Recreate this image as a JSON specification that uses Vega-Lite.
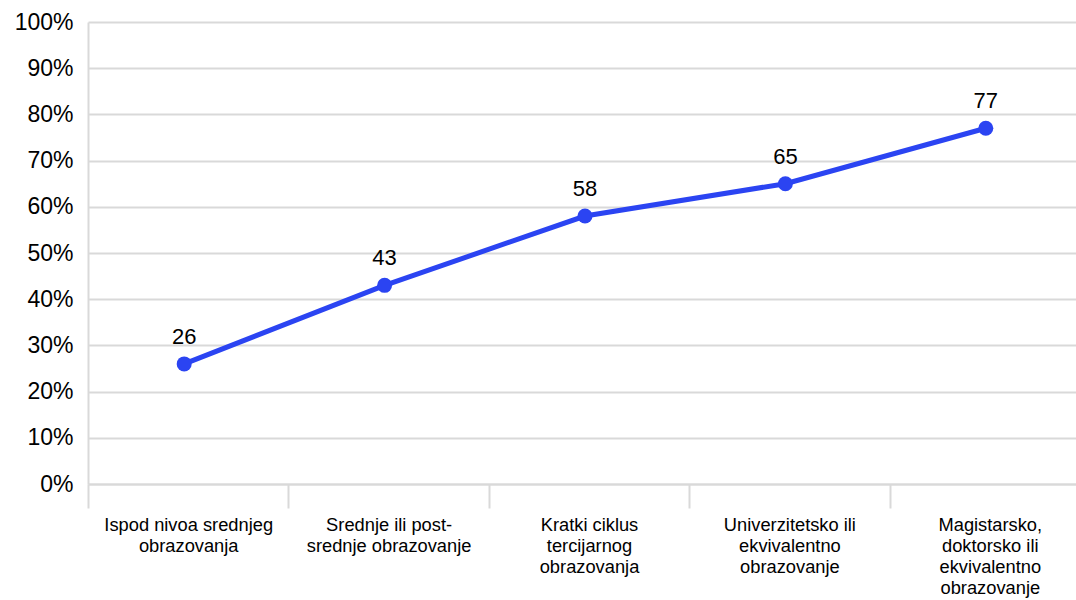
{
  "$schema": "https://vega.github.io/schema/vega-lite/v6.json",
  "autosize": "none",
  "width": 988,
  "height": 462,
  "padding": {"left": 88, "top": 22, "right": 0, "bottom": 116},
  "background": "white",
  "config": {
    "view": {"stroke": null},
    "font": "Liberation Sans"
  },
  "data": {
    "values": [
      {"nivo": "Ispod nivoa srednjeg|obrazovanja", "udio": 26},
      {"nivo": "Srednje ili post-|srednje obrazovanje", "udio": 43},
      {"nivo": "Kratki ciklus|tercijarnog|obrazovanja", "udio": 58},
      {"nivo": "Univerzitetsko ili|ekvivalentno|obrazovanje", "udio": 65},
      {"nivo": "Magistarsko,|doktorsko ili|ekvivalentno|obrazovanje", "udio": 77}
    ]
  },
  "encoding": {
    "x": {
      "field": "nivo",
      "type": "nominal",
      "sort": null,
      "title": null,
      "scale": {"type": "band", "paddingInner": 0, "paddingOuter": 0, "range": [0, 1002]},
      "axis": {
        "labelAngle": 0,
        "labelExpr": "split(datum.label, '|')",
        "labelFont": "Liberation Sans",
        "labelFontSize": 18.3,
        "labelLineHeight": 21.3,
        "labelColor": "#000000",
        "labelPadding": 8,
        "labelLimit": 220,
        "tickBand": "extent",
        "tickSize": 24,
        "tickColor": "#d9d9d9",
        "tickWidth": 2,
        "domainColor": "#d9d9d9",
        "domainWidth": 2,
        "grid": false
      }
    },
    "y": {
      "field": "udio",
      "type": "quantitative",
      "title": null,
      "scale": {"domain": [0, 100], "nice": false},
      "axis": {
        "values": [0, 10, 20, 30, 40, 50, 60, 70, 80, 90, 100],
        "labelExpr": "datum.value + '%'",
        "labelFont": "Liberation Sans",
        "labelFontSize": 23,
        "labelColor": "#000000",
        "labelPadding": 15,
        "ticks": false,
        "tickSize": 0,
        "grid": true,
        "gridColor": "#d9d9d9",
        "gridWidth": 2,
        "domain": true,
        "domainColor": "#d9d9d9",
        "domainWidth": 2
      }
    }
  },
  "layer": [
    {
      "mark": {"type": "line", "color": "#2b44f2", "strokeWidth": 5, "xOffset": -4}
    },
    {
      "mark": {"type": "point", "filled": true, "opacity": 1, "color": "#2b44f2", "size": 225, "xOffset": -4}
    },
    {
      "mark": {"type": "text", "font": "Liberation Sans", "fontSize": 22, "color": "#000000", "baseline": "alphabetic", "dy": -20, "xOffset": -4},
      "encoding": {
        "text": {"field": "udio", "type": "quantitative"}
      }
    }
  ]
}
